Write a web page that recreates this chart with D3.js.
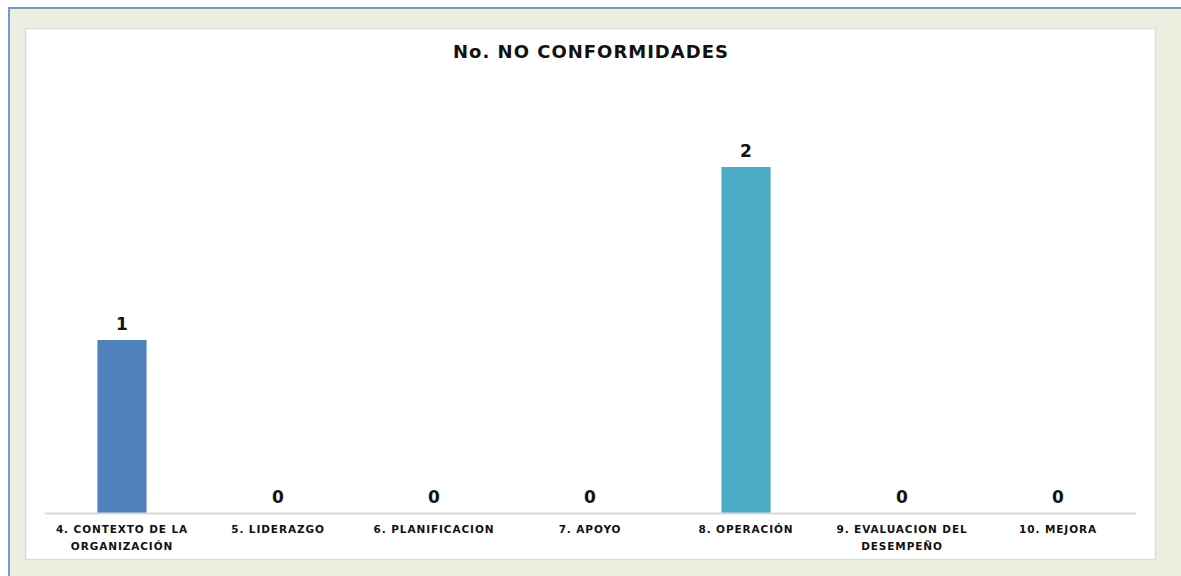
<!DOCTYPE html>
<html>
<head>
<meta charset="utf-8">
<script src="https://cdn.jsdelivr.net/npm/d3@7"></script>
<style>
  html, body { margin: 0; padding: 0; background: #fff; }
  svg { display: block; }
</style>
</head>
<body>
<div id="chart"></div>
<script>
(function () {
  "use strict";

  // Data.
  var categories = [
    ["4. CONTEXTO DE LA", "ORGANIZACIÓN"],
    ["5. LIDERAZGO"],
    ["6. PLANIFICACION"],
    ["7. APOYO"],
    ["8. OPERACIÓN"],
    ["9. EVALUACION DEL", "DESEMPEÑO"],
    ["10. MEJORA"]
  ];
  var values = [1, 0, 0, 0, 2, 0, 0];
  var barColors = ["#4F81BD", "#4BACC6", "#4BACC6", "#4BACC6", "#4BACC6", "#4BACC6", "#4BACC6"];
  var title = "No. NO CONFORMIDADES";

  var width = 1181, height = 576;
  var plot = { left: 44, right: 1136, top: 167, bottom: 513 };
  var font = "'DejaVu Sans', Verdana, sans-serif";

  var svg = d3.select("#chart").append("svg")
    .attr("width", width)
    .attr("height", height);

  // Outer frame (beige with blue edge) and inner white chart area.
  svg.append("rect")
    .attr("x", 9).attr("y", 8)
    .attr("width", width + 10).attr("height", height + 10)
    .attr("fill", "#ECEEE0")
    .attr("stroke", "#6A9FD8")
    .attr("stroke-width", 2);
  svg.append("rect")
    .attr("x", 25.5).attr("y", 28.5)
    .attr("width", 1130).attr("height", 531)
    .attr("fill", "#fff")
    .attr("stroke", "#DCDCDC")
    .attr("stroke-width", 1.5);

  var keys = categories.map(function (d) { return d.join(" "); });

  var x = d3.scaleBand()
    .domain(keys)
    .range([plot.left, plot.right])
    .paddingInner(0.685)
    .paddingOuter(0.3425);

  var y = d3.scaleLinear()
    .domain([0, 2])
    .range([plot.bottom, plot.top]);

  // Title.
  svg.append("text")
    .attr("x", 591).attr("y", 58)
    .attr("text-anchor", "middle")
    .attr("font-family", font)
    .attr("font-weight", "bold")
    .attr("font-size", "18px")
    .attr("letter-spacing", "1px")
    .attr("fill", "#111")
    .text(title);

  // Bars.
  svg.append("g").selectAll("rect")
    .data(values).enter().append("rect")
    .attr("x", function (d, i) { return x(keys[i]); })
    .attr("width", x.bandwidth())
    .attr("y", function (d) { return y(d); })
    .attr("height", function (d) { return y(0) - y(d); })
    .attr("fill", function (d, i) { return barColors[i]; });

  // Value labels.
  svg.append("g").selectAll("text")
    .data(values).enter().append("text")
    .attr("x", function (d, i) { return x(keys[i]) + x.bandwidth() / 2; })
    .attr("y", function (d) { return y(d) - 10; })
    .attr("text-anchor", "middle")
    .attr("font-family", font)
    .attr("font-weight", "bold")
    .attr("font-size", "17px")
    .attr("fill", "#111")
    .text(function (d) { return d; });

  // X axis.
  var xAxis = svg.append("g")
    .attr("transform", "translate(0," + plot.bottom + ")")
    .call(d3.axisBottom(x).tickSize(0).tickFormat(""));
  xAxis.select(".domain").attr("stroke", "#D9D9D9").attr("stroke-width", 2);

  xAxis.selectAll(".tick").each(function (d, i) {
    var t = d3.select(this).append("text")
      .attr("text-anchor", "middle")
      .attr("font-family", font)
      .attr("font-weight", "bold")
      .attr("font-size", "10.5px")
      .attr("letter-spacing", "0.9px")
      .attr("fill", "#111");
    categories[i].forEach(function (line, j) {
      t.append("tspan").attr("x", 0).attr("y", 20 + j * 17).text(line);
    });
  });
})();
</script>
</body>
</html>
